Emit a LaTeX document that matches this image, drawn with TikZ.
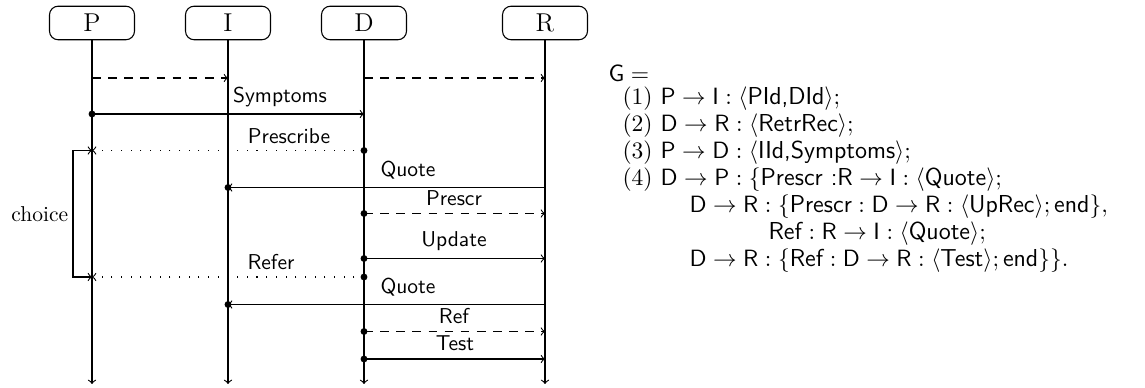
\documentclass[tikz,border=0pt]{standalone}
\usepackage{xcolor}
\usepackage{amsmath}
\usepackage{amsfonts}
\usepackage{tikz}

\tikzset{
  agent/.style={draw, rounded corners=4pt, minimum width=39.5pt, minimum height=15.6pt, inner sep=0pt, font=\large},
  msglabel/.style={font=\sffamily, inner sep=0pt, anchor=base},
  dashmsg/.style={->, dash pattern=on 4pt off 3.5pt},
  dotmsg/.style={->, loosely dotted},
  formula/.style={anchor=base west, inner sep=0pt, font=\fontsize{11.4pt}{13.7pt}\selectfont},
}

\begin{document}
\begin{tikzpicture}[x=0.465pt,y=0.465pt,yscale=-1,xscale=1,line width=0.5pt]
        \useasboundingbox (0,0) rectangle (1145,388);

        % Agents
        \node [agent] (P) at (92,23) {P};
        \node [agent] (I) at (228,23) {I};
        \node [agent] (D) at (364,23) {D};
        \node [agent] (R) at (545,23) {R};

        % Lifelines
        \coordinate (Pend) at (92,384);
        \coordinate (Iend) at (228,384);
        \coordinate (Dend) at (364,384);
        \coordinate (Rend) at (545,384);
        \draw [->] (P) -- (Pend);
        \draw [->] (I) -- (Iend);
        \draw [->] (D) -- (Dend);
        \draw [->] (R) -- (Rend);

        % Message ends
        \coordinate (p1) at (92,78);
        \coordinate (i1) at (228,78);
        \coordinate (d1) at (364,78);
        \coordinate (r1) at (545,78);
        \coordinate (p2) at (92,114);
        \coordinate (d2) at (364,114);
        \coordinate (p3) at (92,150.5);
        \coordinate (d3) at (364,150.5);
        \coordinate (i4) at (228,187.5);
        \coordinate (r4) at (545,187.5);
        \coordinate (d5) at (364,213.5);
        \coordinate (r5) at (545,213.5);
        \coordinate (d6) at (364,258.5);
        \coordinate (r6) at (545,258.5);
        \coordinate (p7) at (92,277);
        \coordinate (d7) at (364,277);
        \coordinate (i8) at (228,304.5);
        \coordinate (r8) at (545,304.5);
        \coordinate (d9) at (364,331.5);
        \coordinate (r9) at (545,331.5);
        \coordinate (d10) at (364,359);
        \coordinate (r10) at (545,359);

        % Messages
        \draw [dashmsg] (p1) -- (i1);
        \draw [dashmsg] (d1) -- (r1);
        \draw [->] (p2) -- (d2);
        \draw [dotmsg] (d3) -- (p3);
        \draw [->] (r4) -- (i4);
        \draw [dashmsg] (d5) -- (r5);
        \draw [->] (d6) -- (r6);
        \draw [dotmsg] (d7) -- (p7);
        \draw [->] (r8) -- (i8);
        \draw [dashmsg] (d9) -- (r9);
        \draw [->] (d10) -- (r10);

        % Dots
        \fill (p2) circle (1.6pt);
        \fill (d3) circle (1.6pt);
        \fill (i4) circle (1.6pt);
        \fill (d5) circle (1.6pt);
        \fill (d6) circle (1.6pt);
        \fill (d7) circle (1.6pt);
        \fill (i8) circle (1.6pt);
        \fill (d9) circle (1.6pt);
        \fill (d10) circle (1.6pt);

        % Choice
        \draw [<->] (p3) -- (73,150.5) -- (73,277) -- (p7);
        \node [left, inner sep=2pt] (choice) at (73,214) {choice};

        % Message labels
        \node [msglabel] (l2) at (280,103) {Symptoms};
        \node [msglabel] (l3) at (289,143.5) {Prescribe};
        \node [msglabel] (l4) at (408,176.5) {Quote};
        \node [msglabel] (l5) at (454,206) {Prescr};
        \node [msglabel] (l6) at (454,246.5) {Update};
        \node [msglabel] (l7) at (271,270) {Refer};
        \node [msglabel] (l8) at (408,294) {Quote};
        \node [msglabel] (l9) at (454,323.5) {Ref};
        \node [msglabel] (l10) at (455,350.5) {Test};

        % Global type
        \node [formula] (g0) at (608,82) {$\mathsf{G} =$};
        \node [formula] (g1) at (622,105) {$(1)\ \mathsf{P} \rightarrow \mathsf{I} : \langle\textsf{PId,DId}\rangle;$};
        \node [formula] (g2) at (622,132) {$(2)\ \mathsf{D} \rightarrow \mathsf{R} : \langle\textsf{RetrRec}\rangle;$};
        \node [formula] (g3) at (622,159) {$(3)\ \mathsf{P} \rightarrow \mathsf{D} : \langle\textsf{IId,Symptoms}\rangle;$};
        \node [formula] (g4) at (622,186) {$(4)\ \mathsf{D} \rightarrow \mathsf{P} : \{\textsf{Prescr :R} \rightarrow \mathsf{I} : \langle\textsf{Quote}\rangle;$};
        \node [formula] (g5) at (689,213) {$\mathsf{D} \rightarrow \mathsf{R} : \{\textsf{Prescr} : \mathsf{D} \rightarrow \mathsf{R} : \langle\textsf{UpRec}\rangle;\textsf{end}\},$};
        \node [formula] (g6) at (768,240) {$\textsf{Ref} : \mathsf{R} \rightarrow \mathsf{I} : \langle\textsf{Quote}\rangle;$};
        \node [formula] (g7) at (689,267) {$\mathsf{D} \rightarrow \mathsf{R} : \{\textsf{Ref} : \mathsf{D} \rightarrow \mathsf{R} : \langle\textsf{Test}\rangle;\textsf{end}\}\}.$};
\end{tikzpicture}
\end{document}
